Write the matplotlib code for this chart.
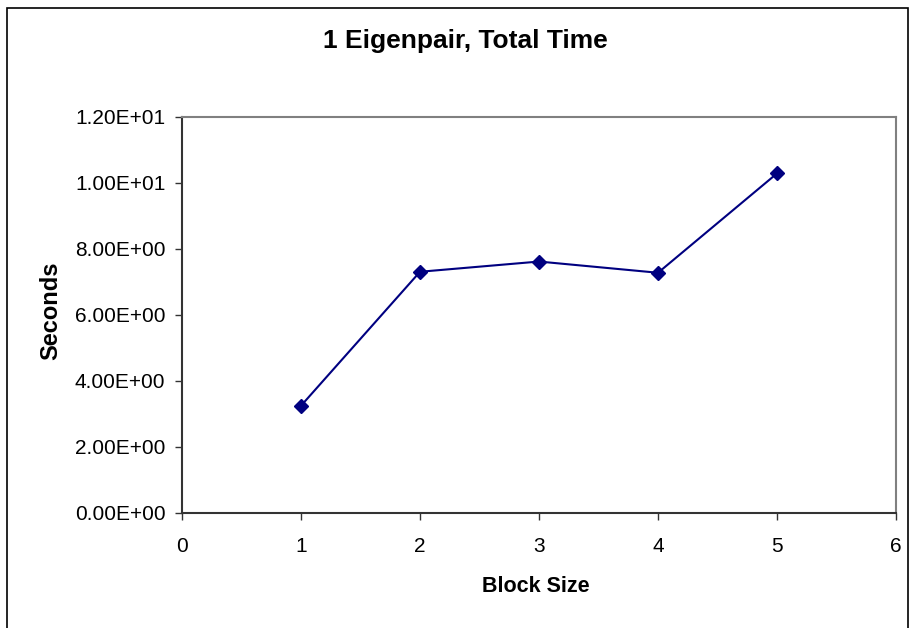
import matplotlib.pyplot as plt
from matplotlib.patches import Rectangle
from matplotlib.ticker import FuncFormatter

plt.rcParams['font.family'] = ['Liberation Sans', 'DejaVu Sans']

# dados
block_size = [1, 2, 3, 4, 5]
seconds = [3.25, 7.31, 7.62, 7.28, 10.29]

fig = plt.figure(figsize=(9.12, 6.28), dpi=100)
ax = fig.add_axes([182/912, 1 - 513/628, (896-182)/912, (513-117)/628])

# borda externa do gráfico (estilo Excel)
fig.patches.append(Rectangle((7/912, -0.1), (908-7)/912, 1.1 - 8/628,
                             transform=fig.transFigure, fill=False,
                             edgecolor='black', linewidth=1.2))

ax.plot(block_size, seconds, color='#000080', linewidth=1.5,
        marker='D', markersize=7, markerfacecolor='#000080',
        markeredgecolor='#000080')

ax.set_xlim(0, 6)
ax.set_ylim(0, 12)
ax.set_xticks(range(0, 7))
ax.set_yticks([0, 2, 4, 6, 8, 10, 12])
ax.yaxis.set_major_formatter(FuncFormatter(lambda v, p: '%.2E' % v))

ax.spines['top'].set_color('#808080')
ax.spines['right'].set_color('#808080')
ax.spines['top'].set_linewidth(1.5)
ax.spines['right'].set_linewidth(1.5)
ax.spines['left'].set_color('#333333')
ax.spines['bottom'].set_color('#333333')
ax.spines['left'].set_linewidth(1.5)
ax.spines['bottom'].set_linewidth(1.5)
ax.tick_params(direction='out', length=5, width=1, color='#333333',
               labelsize=15)
ax.tick_params(axis='y', pad=7)
ax.tick_params(axis='x', pad=12)

fig.text(465/912, 1 - 41/628, '1 Eigenpair, Total Time', ha='center',
         va='center', fontsize=19, fontweight='bold')
fig.text(536/912, 1 - 587/628, 'Block Size', ha='center', va='center',
         fontsize=15.5, fontweight='bold')
fig.text(51/912, 1 - 311/628, 'Seconds', ha='center', va='center',
         fontsize=17, fontweight='bold', rotation=90)

plt.savefig('out.png', dpi=100)
